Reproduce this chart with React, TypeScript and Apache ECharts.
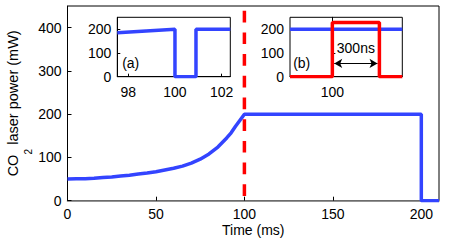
import React, { useEffect, useRef } from 'react';
import * as echarts from 'echarts';

// ---- data ----
const mainTime = [0, 5, 10, 15, 20, 25, 30, 35, 40, 45, 50, 55, 60, 65, 70, 75, 80, 85, 90, 92.5, 95, 97.5, 100, 200, 200, 210];
const mainPower = [50, 50.5, 51, 52, 53.5, 55, 57, 59, 61.5, 64, 67, 71, 75, 80, 87, 96, 108, 124, 145, 157, 172, 186, 200, 200, 0, 0];
const triggerTime = 100;
const triggerSpan = [0, 450];

const insetATime = [97.53, 100, 100, 100.9, 100.9, 102.37];
const insetAPower = [185, 200, 0, 0, 200, 200];

const insetBTimeNs = [-270, 446];
const insetBBlue = [200, 200];
const insetBRedTime = [-270, 0, 0, 300, 300, 446];
const insetBRedPower = [0, 0, 228, 228, 0, 0];
const pulseArrow = [12, 288];
const pulseArrowLevel = 56;
const pulseTextPos = [150, 120];

const mainXTicks = [0, 50, 100, 150, 200];
const mainYTicks = [0, 100, 200, 300, 400];
const insetATicks = [98, 100, 102];
const insetYTicks = [0, 100, 200];
const insetBTicks = [0];
const insetBTickLabel = '100';

const FONT = '"Liberation Sans", Arial, Helvetica, sans-serif';
const BLUE = '#3344ff';
const RED = '#ff0000';

const zip = (a: number[], b: number[]) => a.map((v, i) => [v, b[i]]);

export default function App() {
  const ref = useRef<HTMLDivElement>(null);
  useEffect(() => {
    document.body.style.margin = '0';
    if (!ref.current) return;
    const chart = echarts.init(ref.current, undefined, { renderer: 'svg' });
    const lbl = { fontSize: 14, color: '#000', fontFamily: FONT };
    const gridBase = { show: true, borderColor: '#000', borderWidth: 1, backgroundColor: '#fff', containLabel: false, outerBoundsMode: 'none' };
    const option: any = {
      animation: false,
      grid: [
        { ...gridBase, left: 67.5, top: 6, width: 371.5, height: 194.7 },
        { ...gridBase, left: 117.3, top: 17.3, width: 113, height: 59.4 },
        { ...gridBase, left: 290, top: 17.3, width: 112.3, height: 59.4 },
      ],
      xAxis: [
        {
          type: 'value', gridIndex: 0, min: 0, max: 210,
          axisLine: { lineStyle: { color: '#808080', width: 1.6 } },
          axisTick: { inside: true, length: 4, customValues: mainXTicks, lineStyle: { color: '#000' } },
          axisLabel: { ...lbl, customValues: mainXTicks, margin: 6.5 },
          splitLine: { show: false },
          name: 'Time (ms)', nameLocation: 'middle', nameGap: 22.5, nameMoveOverlap: false, nameTextStyle: lbl,
        },
        {
          type: 'value', gridIndex: 1, min: 97.53, max: 102.37,
          axisLine: { lineStyle: { color: '#000', width: 1 } },
          axisTick: { inside: true, length: 3, customValues: insetATicks, lineStyle: { color: '#000' } },
          axisLabel: { ...lbl, customValues: insetATicks, margin: 8 },
          splitLine: { show: false },
        },
        {
          type: 'value', gridIndex: 2, min: -270, max: 446,
          axisLine: { lineStyle: { color: '#000', width: 1 } },
          axisTick: { inside: true, length: 3, customValues: insetBTicks, lineStyle: { color: '#000' } },
          axisLabel: { ...lbl, customValues: insetBTicks, margin: 8, formatter: () => insetBTickLabel },
          splitLine: { show: false },
        },
      ],
      yAxis: [
        {
          type: 'value', gridIndex: 0, min: 0, max: 450,
          axisLine: { show: true, lineStyle: { color: '#000', width: 1 } },
          axisTick: { show: true, inside: true, length: 4, customValues: mainYTicks, lineStyle: { color: '#000' } },
          axisLabel: { ...lbl, customValues: mainYTicks, margin: 6 },
          splitLine: { show: false },
          name: '{a|CO}{s|2}{h| }{a| laser power (mW)}', nameLocation: 'middle', nameGap: 33.7, nameMoveOverlap: false,
          nameTextStyle: {
            ...lbl,
            rich: {
              a: { fontSize: 14.5, lineHeight: 16, verticalAlign: 'top', color: '#000', fontFamily: FONT },
              s: { fontSize: 10, lineHeight: 10, verticalAlign: 'bottom', color: '#000', fontFamily: FONT },
              h: { fontSize: 1, lineHeight: 28, verticalAlign: 'middle', color: '#000', fontFamily: FONT },
            },
          },
        },
        {
          type: 'value', gridIndex: 1, min: 0, max: 250,
          axisLine: { show: true, lineStyle: { color: '#000', width: 1 } },
          axisTick: { show: true, inside: true, length: 3, customValues: insetYTicks, lineStyle: { color: '#000' } },
          axisLabel: { ...lbl, customValues: insetYTicks, margin: 6 },
          splitLine: { show: false },
        },
        {
          type: 'value', gridIndex: 2, min: 0, max: 250,
          axisLine: { show: true, lineStyle: { color: '#000', width: 1 } },
          axisTick: { show: true, inside: true, length: 3, customValues: insetYTicks, lineStyle: { color: '#000' } },
          axisLabel: { ...lbl, customValues: insetYTicks, margin: 6 },
          splitLine: { show: false },
        },
      ],
      series: [
        {
          type: 'line', xAxisIndex: 0, yAxisIndex: 0, data: zip(mainTime, mainPower),
          showSymbol: false, symbol: 'none', lineStyle: { color: BLUE, width: 3.5 }, silent: true, z: 3,
        },
        {
          type: 'line', xAxisIndex: 0, yAxisIndex: 0,
          data: [[triggerTime, triggerSpan[1]], [triggerTime, triggerSpan[0]]],
          showSymbol: false, symbol: 'none', silent: true, z: 4,
          lineStyle: { color: RED, width: 3.5, type: [11.7, 10], dashOffset: 16.7 },
        },
        {
          type: 'line', xAxisIndex: 1, yAxisIndex: 1, data: zip(insetATime, insetAPower),
          showSymbol: false, symbol: 'none', lineStyle: { color: BLUE, width: 3.5 }, silent: true, z: 5,
        },
        {
          type: 'line', xAxisIndex: 2, yAxisIndex: 2, data: zip(insetBTimeNs, insetBBlue),
          showSymbol: false, symbol: 'none', lineStyle: { color: BLUE, width: 3.5 }, silent: true, z: 5,
        },
        {
          type: 'line', xAxisIndex: 2, yAxisIndex: 2, data: zip(insetBRedTime, insetBRedPower),
          showSymbol: false, symbol: 'none', lineStyle: { color: RED, width: 3.5 }, silent: true, z: 6,
          markLine: {
            silent: true, symbol: ['arrow', 'arrow'], symbolSize: [7, 8],
            lineStyle: { color: '#000', width: 1, type: 'solid' },
            label: { show: false },
            data: [[{ coord: [pulseArrow[0], pulseArrowLevel] }, { coord: [pulseArrow[1], pulseArrowLevel] }]],
          },
          markPoint: {
            silent: true, symbol: 'circle', symbolSize: 0,
            label: { show: true, position: 'inside', formatter: '300ns', ...lbl },
            data: [{ coord: pulseTextPos }],
          },
        },
      ],
      graphic: [
        { type: 'text', x: 130.7, y: 63.3, style: { text: '(a)', font: `14px ${FONT}`, fill: '#000', align: 'center', verticalAlign: 'middle' }, z: 100 },
        { type: 'text', x: 301.7, y: 63.3, style: { text: '(b)', font: `14px ${FONT}`, fill: '#000', align: 'center', verticalAlign: 'middle' }, z: 100 },
      ],
    };
    chart.setOption(option);
    return () => chart.dispose();
  }, []);
  return <div ref={ref} style={{ width: 452, height: 243 }} />;
}
